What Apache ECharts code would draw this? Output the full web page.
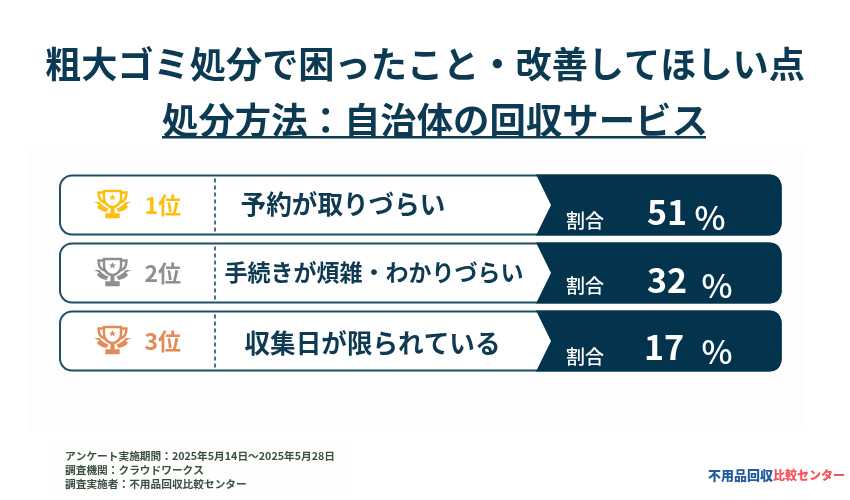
<!DOCTYPE html>
<html>
<head>
<meta charset="utf-8">
<script src="https://cdn.jsdelivr.net/npm/echarts@6/dist/echarts.min.js"></script>
<style>
html, body { margin: 0; padding: 0; background: #fff; }
#chart { width: 850px; height: 500px; }
</style>
</head>
<body>
<div id="chart"></div>
<script>
const titleMain = '粗大ゴミ処分で困ったこと・改善してほしい点';
const titleSub = '処分方法：自治体の回収サービス';
const ranks = ['1位', '2位', '3位'];
const reasons = ['予約が取りづらい', '手続きが煩雑・わかりづらい', '収集日が限られている'];
const shares = [51, 32, 17];
const shareLabel = '割合';
const notes = [
  'アンケート実施期間：2025年5月14日～2025年5月28日',
  '調査機関：クラウドワークス',
  '調査実施者：不用品回収比較センター'
];

const FONT = '"Noto Sans CJK JP", "Noto Sans", sans-serif';
const NAVY = '#03334d';
const rankColors = ['#fdbe0e', '#8f8f8f', '#e58a55'];
const reasonSizes = [25.6, 23, 25.6];
const reasonX = [343, 374, 372.5];
const reasonDy = [-1, -1, 2];
// 数値と%の位置は行ごとに少しずれている
const valueX = [667, 667, 664];
const percentX = [710, 717, 717];
const shareDy = [[8, 13, 16], [8, 13, 13], [7, 11, 16]];

const cupPath = 'M10 2H27V9C27 15 22 18 18.5 18C15 18 10 15 10 9Z'
  + 'M10 3.5H4.5C4.5 9 6.5 12.5 10.5 13.5M27 3.5H32.5C32.5 9 30.5 12.5 26.5 13.5'
  + 'M12.5 25.5H24.5V28H12.5Z';
const ribbonPath = 'M0 13H5.5C7.5 16 11 18.5 14.5 19.5L12.5 23C8 22.5 5 20.5 3 18L5 15.5Z'
  + 'M37 13H31.5C29.5 16 26 18.5 22.5 19.5L24.5 23C29 22.5 32 20.5 34 18L32 15.5Z'
  + 'M16.5 19H20.5V25H16.5Z'
  + 'M18.5 5L19.5 7.5H22L20 9L20.8 11.5L18.5 10L16.2 11.5L17 9L15 7.5H17.5Z';

function renderRow(params, api) {
  const i = params.dataIndex;
  const mid = api.coord([0, i]);
  const left = mid[0];
  const cy = Math.round(mid[1]);
  const right = api.coord([100, i])[0];
  const top = cy - 29.5;
  const bottom = cy + 29.5;
  const color = rankColors[i];
  return {
    type: 'group',
    children: [
      { type: 'rect', shape: { x: left, y: top, width: right - left, height: bottom - top, r: 12 },
        style: { fill: '#fff', stroke: '#1f4e68', lineWidth: 2 } },
      { type: 'path',
        shape: { pathData: `M${left + 476} ${top - 1}H${right - 12}Q${right} ${top - 1} ${right} ${top + 11}`
          + `V${bottom - 11}Q${right} ${bottom + 1} ${right - 12} ${bottom + 1}H${left + 476}L${left + 491} ${cy}Z` },
        style: { fill: NAVY } },
      { type: 'line', shape: { x1: left + 155, y1: top + 3, x2: left + 155, y2: bottom - 2 },
        style: { stroke: '#1f4e68', lineWidth: 1.6, lineDash: [4, 3] } },
      { type: 'path', x: 94, y: cy - 16, shape: { pathData: cupPath },
        style: { fill: 'none', stroke: color, lineWidth: 2.4 } },
      { type: 'path', x: 94, y: cy - 16, shape: { pathData: ribbonPath },
        style: { fill: color } },
      { type: 'text', style: { text: ranks[i], x: 181, y: cy, fill: color, align: 'right', verticalAlign: 'middle',
        fontFamily: FONT, fontWeight: 'bold', fontSize: 23 } },
      { type: 'text', style: { text: reasons[i], x: reasonX[i], y: cy + reasonDy[i], fill: '#0e3a52', align: 'center', verticalAlign: 'middle',
        fontFamily: FONT, fontWeight: 'bold', fontSize: reasonSizes[i] } },
      { type: 'text', style: { text: shareLabel, x: 585, y: cy + shareDy[i][2], fill: '#fff', align: 'center', verticalAlign: 'middle',
        fontFamily: FONT, fontWeight: 500, fontSize: 19 } },
      { type: 'text', style: { text: String(api.value(0)), x: valueX[i], y: cy + shareDy[i][0] - 1, fill: '#fff', align: 'center', verticalAlign: 'middle',
        fontFamily: FONT, fontWeight: 'bold', fontSize: 34 } },
      { type: 'text', style: { text: '%', x: percentX[i], y: cy + shareDy[i][1] - 1, fill: '#fff', align: 'center', verticalAlign: 'middle',
        fontFamily: FONT, fontWeight: 500, fontSize: 33 } }
    ]
  };
}

const chart = echarts.init(document.getElementById('chart'), null, { renderer: 'canvas' });
chart.setOption({
  animation: false,
  backgroundColor: '#fff',
  title: [
    { text: titleMain, left: 'center', top: 41, padding: 5,
      textStyle: { fontFamily: FONT, fontWeight: 'bold', fontSize: 36.2, color: '#0b3a52' } },
    { text: titleSub, left: 162, top: 102, padding: 0,
      textStyle: { fontFamily: FONT, fontWeight: 'bold', fontSize: 36.4, color: '#0b3a52' } }
  ],
  graphic: [
    { type: 'rect', z: -1, shape: { x: 28, y: 150, width: 775, height: 280 }, style: { fill: '#fdfdfd' } },
    { type: 'rect', z: -1, shape: { x: 55, y: 445, width: 290, height: 48 }, style: { fill: '#fefefd' } },
    { type: 'rect', shape: { x: 162, y: 136, width: 544, height: 2.5 }, style: { fill: '#0b3a52' } },
    { type: 'text', style: { x: 65, y: 456, text: notes[0], fill: '#3c4f45', fontFamily: FONT, fontWeight: 'bold', fontSize: 10.7, verticalAlign: 'middle' } },
    { type: 'text', style: { x: 65, y: 470, text: notes[1], fill: '#3c4f45', fontFamily: FONT, fontWeight: 'bold', fontSize: 10.7, verticalAlign: 'middle' } },
    { type: 'text', style: { x: 65, y: 484, text: notes[2], fill: '#3c4f45', fontFamily: FONT, fontWeight: 'bold', fontSize: 10.7, verticalAlign: 'middle' } },
    { type: 'text', style: { x: 708, y: 475, text: '不用品回収', fill: '#1f5b9e', fontFamily: FONT, fontWeight: 900, fontSize: 13, verticalAlign: 'middle' } },
    { type: 'text', style: { x: 773, y: 475, text: '比較センター', fill: '#f5525a', fontFamily: FONT, fontWeight: 900, fontSize: 12, verticalAlign: 'middle' } }
  ],
  grid: { left: 60, right: 69, top: 170.5, height: 204 },
  xAxis: { type: 'value', min: 0, max: 100, show: false },
  yAxis: { type: 'category', data: reasons, inverse: true, show: false },
  series: [{
    type: 'custom',
    coordinateSystem: 'cartesian2d',
    encode: { x: 0, y: 1 },
    clip: false,
    renderItem: renderRow,
    data: shares.map((v, i) => [v, i])
  }]
});
</script>
</body>
</html>
